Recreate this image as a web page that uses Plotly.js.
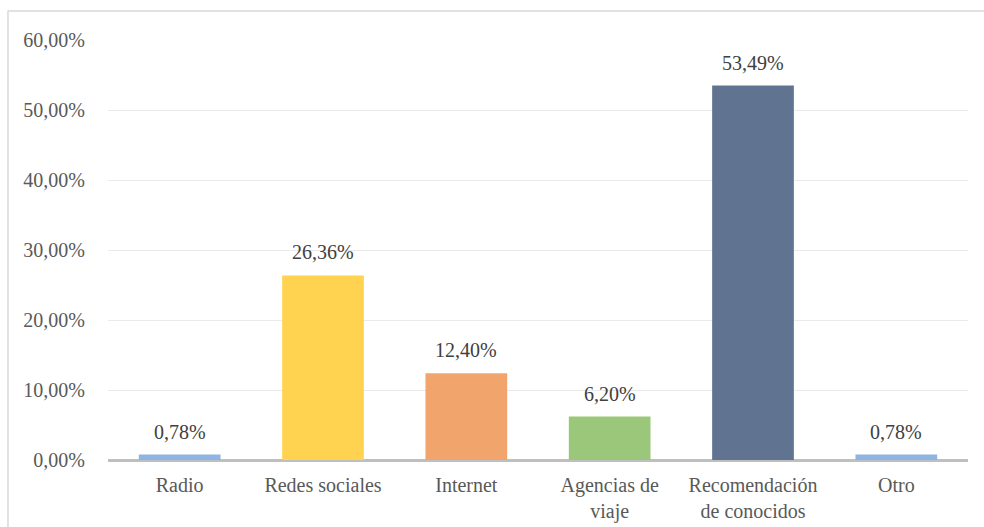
<!DOCTYPE html>
<html>
<head>
<meta charset="utf-8">
<script src="https://cdn.plot.ly/plotly-3.0.1.min.js"></script>
<style>html,body{margin:0;padding:0;background:#fff;}#chart{width:984px;height:527px;}</style>
</head>
<body>
<div id="chart"></div>
<script>
const categories = ["Radio", "Redes sociales", "Internet", "Agencias de<br>viaje", "Recomendación<br>de conocidos", "Otro"];
const values = [0.0078, 0.2636, 0.1240, 0.0620, 0.5349, 0.0078];
const colors = ["#8DB4E2", "#FFD34F", "#F2A46D", "#9BC77A", "#607390", "#8DB4E2"];
const yTicks = [0, 0.1, 0.2, 0.3, 0.4, 0.5, 0.6];

const FONT = "Liberation Serif";

const trace = {
  type: "bar",
  x: categories,
  y: values,
  marker: {color: colors},
  width: 0.57,
  hoverinfo: "skip"
};

const annotations = categories.map((c, i) => ({
  x: c, y: values[i], xref: "x", yref: "y",
  text: (values[i] * 100).toFixed(2).replace(".", ",") + "%",
  showarrow: false, yshift: 23,
  font: {family: FONT, size: 20, color: "#404040"}
}));

const layout = {
  width: 984, height: 527,
  margin: {l: 108, r: 16, t: 40, b: 67},
  paper_bgcolor: "#fff", plot_bgcolor: "#fff",
  separators: ",.",
  showlegend: false,
  font: {family: FONT, size: 20, color: "#595959"},
  xaxis: {
    type: "category",
    showgrid: false,
    showline: false,
    ticks: "outside", ticklen: 7, tickcolor: "rgba(0,0,0,0)",
    tickfont: {family: FONT, size: 20, color: "#595959"},
    fixedrange: true
  },
  yaxis: {
    range: [0, 0.6],
    tickvals: yTicks,
    tickformat: ".2%",
    showgrid: true, gridcolor: "#EAEAEA", gridwidth: 1,
    zeroline: true, zerolinecolor: "#BFBFBF", zerolinewidth: 3,
    showline: false,
    ticks: "outside", ticklen: 18, tickcolor: "rgba(0,0,0,0)",
    tickfont: {family: FONT, size: 20, color: "#595959"},
    fixedrange: true
  },
  annotations: annotations,
  shapes: [{
    type: "rect", xref: "paper", yref: "paper",
    x0: -0.1163, x1: 1.1, y0: -0.3, y1: 1.069,
    line: {color: "#D9D9D9", width: 1.5}, fillcolor: "rgba(0,0,0,0)", layer: "below"
  }]
};

Plotly.newPlot("chart", [trace], layout, {displayModeBar: false, staticPlot: true});
</script>
</body>
</html>
